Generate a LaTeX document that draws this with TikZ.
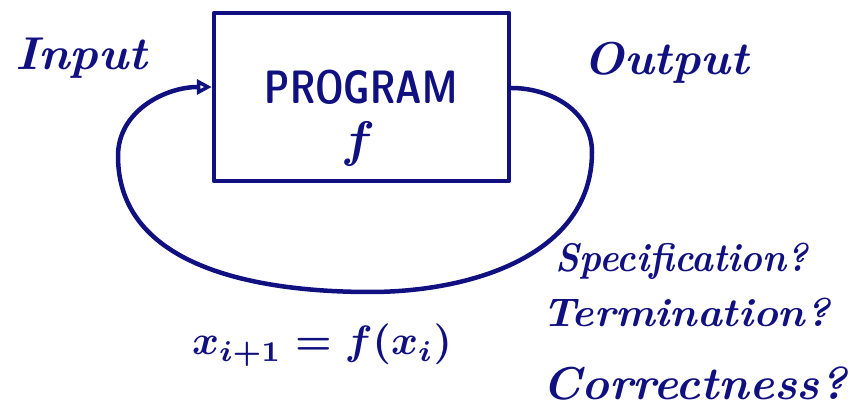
\documentclass[tikz,border=0pt]{standalone}
\usepackage{graphicx}
\usetikzlibrary{arrows.meta}
\definecolor{ink}{RGB}{16,16,128}
\tikzset{
  ink/.style={draw=ink, line width=4.5pt, line cap=round, line join=round},
  label/.style={text=ink, inner sep=0pt, anchor=base},
}
\begin{document}
\begin{tikzpicture}[x=1pt,y=1pt]
\useasboundingbox (0,0) rectangle (863,414);
% box
\node[ink, minimum width=295pt, minimum height=168pt, inner sep=0pt] (box) at (361.5,317) {};
\node[label, anchor=center] (prog) at (361,327) {\scalebox{1}[1.3]{\fontsize{36}{40}\selectfont\sffamily\bfseries PROGRAM}};
\node[label, anchor=center] (fbox) at (358,270) {\scalebox{5}{\boldmath$f$}};
% connection points
\coordinate (outpt) at (box.east |- 0,326);
\coordinate (inpt) at (box.west |- 0,327);
\coordinate (rgt) at (592,262);
\coordinate (bot) at (370,122);
\coordinate (lft) at (118,258);
% loop
\draw[ink, -{Triangle[open, length=15pt, width=15pt, line width=3.5pt]}]
  (outpt) to[out=0,in=90] (rgt) to[out=-90,in=0] (bot)
  to[out=180,in=-90] (lft) to[out=90,in=180] (inpt);
% labels
\node[label] (input) at (81,344) {\scalebox{1.05}[1]{\fontsize{46}{50}\selectfont\bfseries\itshape Input}};
\node[label] (output) at (666,339) {\scalebox{1.04}[1]{\fontsize{46}{50}\selectfont\bfseries\itshape Output}};
\node[label] (formula) at (322,59) {\scalebox{4.1}{\boldmath$x_{i+1}=f(x_i)$}};
\node[label] (spec) at (682,142) {\scalebox{0.92}[1]{\fontsize{40}{44}\selectfont\bfseries\itshape Specification?}};
\node[label] (term) at (686,87) {\scalebox{1.05}[1]{\fontsize{40}{44}\selectfont\bfseries\itshape Termination?}};
\node[label] (corr) at (695,14) {\scalebox{1.02}[1]{\fontsize{46}{50}\selectfont\bfseries\itshape Correctness?}};
\end{tikzpicture}
\end{document}
